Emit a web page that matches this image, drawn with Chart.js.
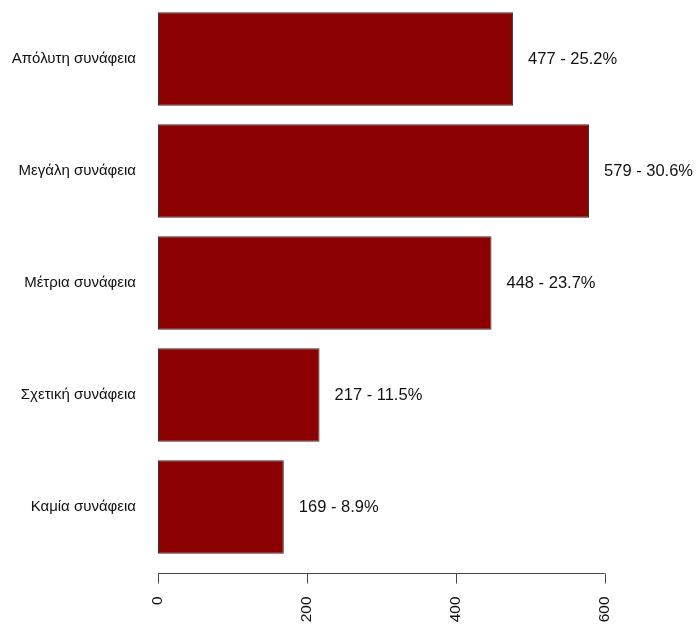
<!DOCTYPE html>
<html>
<head>
<meta charset="utf-8">
<script src="https://cdn.jsdelivr.net/npm/chart.js@4/dist/chart.umd.min.js"></script>
<style>
  body { margin: 0; background: #fff; }
  canvas { display: block; }
</style>
</head>
<body>
<canvas id="chart" width="697" height="626"></canvas>
<script>
// data
const categories = ['Απόλυτη συνάφεια', 'Μεγάλη συνάφεια', 'Μέτρια συνάφεια', 'Σχετική συνάφεια', 'Καμία συνάφεια'];
const counts = [477, 579, 448, 217, 169];
const percents = ['25.2', '30.6', '23.7', '11.5', '8.9'];
const xTicks = [0, 200, 400, 600];

const FONT = '"Liberation Sans", Arial, sans-serif';

// value labels to the right of each bar
const valueLabels = {
    id: 'valueLabels',
    afterDatasetsDraw(chart) {
        const ctx = chart.ctx;
        const meta = chart.getDatasetMeta(0);
        ctx.save();
        ctx.font = '16.5px ' + FONT;
        ctx.fillStyle = '#111';
        ctx.textAlign = 'left';
        ctx.textBaseline = 'middle';
        meta.data.forEach((bar, i) => {
            ctx.fillText(counts[i] + ' - ' + percents[i] + '%', bar.x + 15, bar.y);
        });
        ctx.restore();
    }
};

// R style bottom axis: line only across the tick range, rotated labels
const bottomAxis = {
    id: 'bottomAxis',
    afterDraw(chart) {
        const ctx = chart.ctx;
        const x = chart.scales.x;
        const y0 = 573.5;
        ctx.save();
        ctx.strokeStyle = '#444';
        ctx.lineWidth = 1;
        ctx.beginPath();
        ctx.moveTo(x.getPixelForValue(xTicks[0]), y0);
        ctx.lineTo(x.getPixelForValue(xTicks[xTicks.length - 1]), y0);
        xTicks.forEach(t => {
            const px = Math.round(x.getPixelForValue(t)) + 0.5;
            ctx.moveTo(px, y0);
            ctx.lineTo(px, y0 + 10);
        });
        ctx.stroke();

        ctx.font = '15.5px ' + FONT;
        ctx.fillStyle = '#111';
        ctx.textAlign = 'right';
        ctx.textBaseline = 'middle';
        xTicks.forEach(t => {
            ctx.save();
            ctx.translate(x.getPixelForValue(t), y0 + 23);
            ctx.rotate(-Math.PI / 2);
            ctx.fillText(String(t), 0, 0);
            ctx.restore();
        });
        ctx.restore();
    }
};

new Chart(document.getElementById('chart'), {
    type: 'bar',
    data: {
        labels: categories,
        datasets: [{
            data: counts,
            backgroundColor: '#8b0000',
            borderColor: '#333',
            borderWidth: 1,
            borderSkipped: false,
            categoryPercentage: 1,
            barPercentage: 0.833
        }]
    },
    options: {
        indexAxis: 'y',
        responsive: false,
        animation: false,
        layout: { padding: { top: 3, bottom: 63, left: 0, right: 3 } },
        plugins: {
            legend: { display: false },
            tooltip: { enabled: false }
        },
        scales: {
            x: {
                display: false,
                min: 0,
                max: 720
            },
            y: {
                grid: { display: false, drawTicks: false },
                border: { display: false },
                ticks: {
                    color: '#111',
                    font: { family: FONT, size: 15 },
                    padding: 22
                },
                afterFit(scale) {
                    scale.width = 158;
                    // tick padding would otherwise push the chart area down
                    scale.paddingTop = 0;
                    scale.paddingBottom = 0;
                }
            }
        }
    },
    plugins: [valueLabels, bottomAxis]
});
</script>
</body>
</html>
